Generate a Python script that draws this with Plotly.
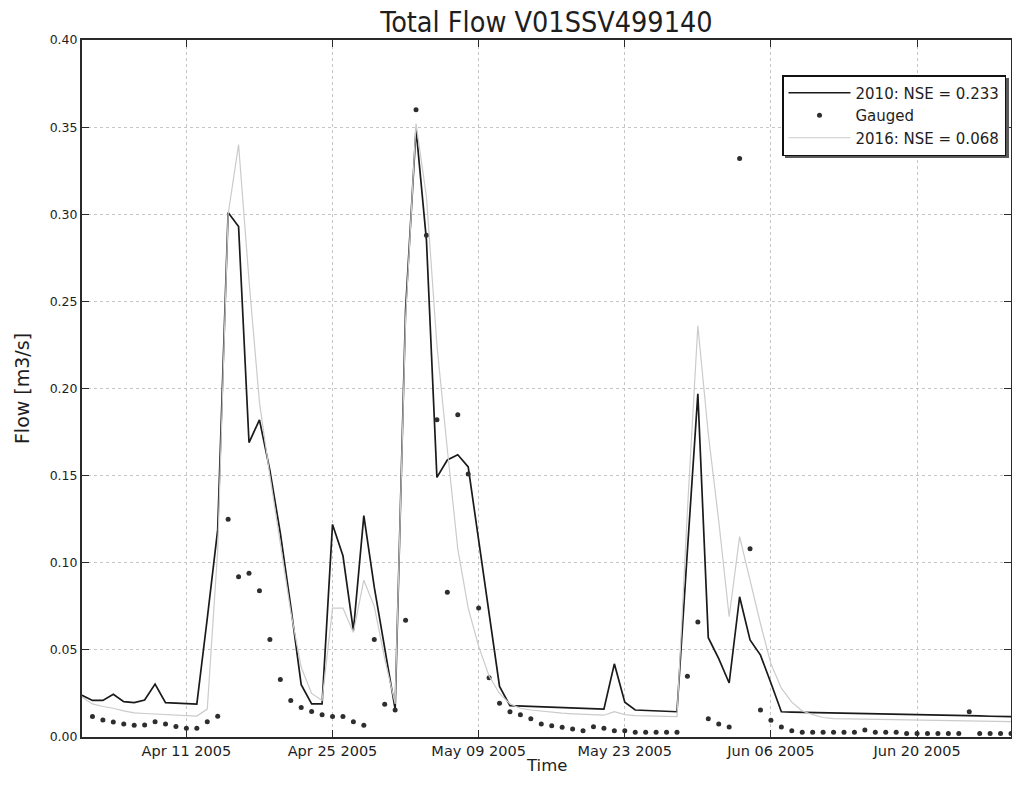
import pandas as pd
import plotly.graph_objects as go

# ---- data ----
sim_dates = pd.date_range("2005-04-01", "2005-06-29", freq="D")   # Apr 1 .. Jun 29
gauged_dates = sim_dates[1:]                                       # Apr 2 .. Jun 29

flow_2010 = [
    0.024, 0.021, 0.021, 0.0245, 0.0203, 0.0197, 0.0212, 0.0304, 0.0197, 0.0193,
    0.0189, 0.0189, 0.068, 0.119, 0.301, 0.293, 0.169, 0.182, 0.153, 0.117,
    0.075, 0.030, 0.019, 0.019, 0.122, 0.104, 0.061, 0.127, 0.086, 0.051,
    0.016, 0.245, 0.349, 0.285, 0.149, 0.159, 0.162, 0.155, 0.112, 0.071,
    0.029, 0.018, 0.0178, 0.0176, 0.0174, 0.0172, 0.017, 0.0168, 0.0166, 0.0163,
    0.016, 0.042, 0.020, 0.0155, 0.0152, 0.015, 0.0148, 0.0145, 0.107, 0.197,
    0.057, 0.045, 0.031, 0.0805, 0.0557, 0.047, 0.031, 0.0145, 0.0143, 0.0142,
    0.0141, 0.0140, 0.0139, 0.0138, 0.0137, 0.0136, 0.0135, 0.0134, 0.0133, 0.0132,
    0.0131, 0.0130, 0.0129, 0.0127, 0.0125, 0.0123, 0.0121, 0.0119, 0.0118, 0.0117,
]

flow_2016 = [
    0.023, 0.019, 0.0175, 0.0165, 0.015, 0.0138, 0.0135, 0.0132, 0.013, 0.0126,
    0.0123, 0.012, 0.016, 0.107, 0.300, 0.340, 0.262, 0.192, 0.150, 0.110,
    0.072, 0.040, 0.025, 0.021, 0.074, 0.074, 0.060, 0.090, 0.075, 0.045,
    0.019, 0.240, 0.352, 0.310, 0.225, 0.165, 0.108, 0.074, 0.052, 0.035,
    0.025, 0.019, 0.0165, 0.0155, 0.0148, 0.0142, 0.0137, 0.0133, 0.0129, 0.0127,
    0.0125, 0.0145, 0.0128, 0.0123, 0.0121, 0.0120, 0.0118, 0.0117, 0.130, 0.236,
    0.174, 0.124, 0.069, 0.115, 0.090, 0.065, 0.042, 0.028, 0.020, 0.015,
    0.0128, 0.0112, 0.0105, 0.0104, 0.0103, 0.0102, 0.0101, 0.0100, 0.0099, 0.0098,
    0.0097, 0.0096, 0.0095, 0.0094, 0.0093, 0.0092, 0.0091, 0.0090, 0.0089, 0.0088,
]

flow_gauged = [
    0.0117, 0.0098, 0.0086, 0.0075, 0.0067, 0.0069, 0.0088, 0.0075, 0.0060, 0.0050,
    0.0050, 0.0088, 0.0119, 0.125, 0.092, 0.094, 0.084, 0.056, 0.033, 0.021,
    0.017, 0.0147, 0.0128, 0.0117, 0.0117, 0.0088, 0.0067, 0.056, 0.0188, 0.0155,
    0.067, 0.360, 0.288, 0.182, 0.083, 0.185, 0.151, 0.074, 0.034, 0.0193,
    0.0145, 0.0128, 0.0105, 0.0075, 0.0065, 0.0056, 0.0046, 0.0036, 0.0059, 0.0050,
    0.0036, 0.0036, 0.0027, 0.0027, 0.0027, 0.0027, 0.0027, 0.0348, 0.066, 0.0105,
    0.0075, 0.0057, 0.332, 0.108, 0.0155, 0.0096, 0.0057, 0.0036, 0.0027, 0.0027,
    0.0027, 0.0027, 0.0027, 0.0027, 0.0040, 0.0027, 0.0027, 0.0027, 0.0020, 0.0020,
    0.0020, 0.0020, 0.0020, 0.0020, 0.0145, 0.0020, 0.0020, 0.0020, 0.0020,
]

x_tick_dates = ["2005-04-11", "2005-04-25", "2005-05-09", "2005-05-23", "2005-06-06", "2005-06-20"]
x_tick_labels = ["Apr 11 2005", "Apr 25 2005", "May 09 2005", "May 23 2005", "Jun 06 2005", "Jun 20 2005"]
y_tick_vals = [0.00, 0.05, 0.10, 0.15, 0.20, 0.25, 0.30, 0.35, 0.40]

FONT = "DejaVu Sans"
FONT_C = "DejaVu Sans Condensed, DejaVu Sans"
TXT = "#1e1e1e"

# plot-area geometry (px) used for decorations only
W, H = 1012, 794
ML, MR, MT, MB = 82, 1, 40, 57
PW, PH = W - ML - MR, H - MT - MB

def px_x(p):
    return (p - ML) / PW

def px_y(p):
    return (H - MB - p) / PH

fig = go.Figure()
fig.add_trace(go.Scatter(
    x=sim_dates, y=flow_2010, mode="lines", name="2010: NSE = 0.233",
    line=dict(color="#1a1a1a", width=1.7),
))
fig.add_trace(go.Scatter(
    x=gauged_dates, y=flow_gauged, mode="markers", name="Gauged",
    marker=dict(color="#2e2e2e", size=5, symbol="circle"),
))
fig.add_trace(go.Scatter(
    x=sim_dates, y=flow_2016, mode="lines", name="2016: NSE = 0.068",
    line=dict(color="#cbcbcb", width=1.2),
))

axis_common = dict(
    showline=True, linecolor="#2a2a2a", linewidth=2, mirror="ticks",
    ticks="inside", ticklen=7, tickwidth=1, tickcolor="#2a2a2a",
    showgrid=True, gridcolor="#c6c6c6", griddash="dot", gridwidth=1,
    zeroline=False, automargin=False,
)

fig.update_layout(
    width=W, height=H,
    paper_bgcolor="white", plot_bgcolor="white",
    margin=dict(l=ML, r=MR, t=MT, b=MB, autoexpand=False),
    font=dict(family=FONT, color=TXT),
    title=dict(text="Total Flow V01SSV499140", x=0.54, xanchor="center",
               y=1 - 22 / H, yanchor="middle", yref="container",
               font=dict(family=FONT_C, size=28.5, color=TXT)),
    xaxis=dict(
        range=["2005-04-01", "2005-06-29"],
        tickvals=x_tick_dates, ticktext=x_tick_labels,
        tickfont=dict(family=FONT, size=14.5, color=TXT),
        **axis_common,
    ),
    yaxis=dict(
        range=[0, 0.40],
        tickvals=y_tick_vals, tickformat=".2f",
        tickfont=dict(family=FONT, size=12.5, color=TXT),
        title=dict(text="Flow [m3/s]", font=dict(family=FONT, size=19, color=TXT), standoff=15),
        **axis_common,
    ),
    legend=dict(
        x=px_x(1006), xanchor="right", y=px_y(75), yanchor="top",
        bgcolor="white", bordercolor="#111111", borderwidth=1.5,
        font=dict(family=FONT, size=15, color=TXT),
        itemwidth=62, tracegroupgap=0,
    ),
    showlegend=True,
    annotations=[dict(
        text="Time", xref="paper", yref="paper", x=0.5, y=px_y(765),
        xanchor="center", yanchor="middle", showarrow=False,
        font=dict(family=FONT, size=16.5, color=TXT),
    )],
    shapes=[dict(  # legend drop shadow
        type="rect", xref="paper", yref="paper", layer="above",
        x0=px_x(785), x1=px_x(1009), y0=px_y(158), y1=px_y(78),
        fillcolor="#5a5a5a", line=dict(width=0),
    )],
)

fig.write_html(
    "out.html",
    config={"displayModeBar": False},
    post_script="document.body.style.margin='0';",
)
